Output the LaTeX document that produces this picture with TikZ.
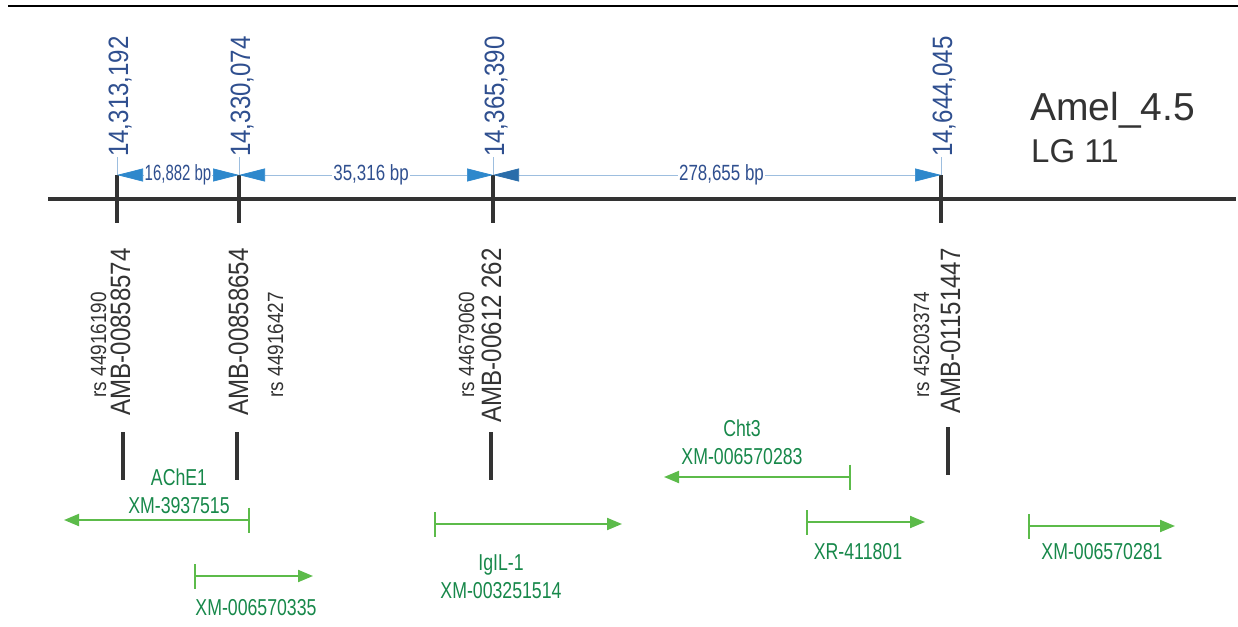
\documentclass[tikz,border=0pt]{standalone}
\usepackage{fontspec}
\setmainfont{Liberation Sans}
\newfontfamily\semicond[FakeStretch=0.86]{Liberation Sans}
\newfontfamily\condfont[FakeStretch=0.77]{Liberation Sans}
\newfontfamily\tightfont[FakeStretch=0.68]{Liberation Sans}
\usetikzlibrary{arrows.meta}
\definecolor{chrom}{HTML}{333333}
\definecolor{posblue}{HTML}{2F4F8F}
\definecolor{tipblue}{HTML}{2E88CC}
\definecolor{tipdark}{HTML}{2A6DAA}
\definecolor{rulerblue}{HTML}{9DBEDF}
\definecolor{genegreen}{HTML}{5CBB4A}
\definecolor{genetext}{HTML}{17884A}
\tikzset{
  chromline/.style={chrom, line width=4pt},
  mtick/.style={chrom, line width=3.5pt},
  ruler/.style={rulerblue, line width=0.7pt},
  distarrow/.style={ruler, {Triangle[length=26pt, width=13pt, color=tipblue]}-{Triangle[length=26pt, width=13pt, color=tipblue]}},
  poslab/.style={text=posblue, font=\semicond\fontsize{28}{30}\selectfont, rotate=90, anchor=base west, inner sep=0pt},
  amblab/.style={text=chrom, font=\semicond\fontsize{28}{30}\selectfont, rotate=90, anchor=base east, inner sep=0pt},
  rslab/.style={text=chrom, font=\semicond\fontsize{22}{24}\selectfont, rotate=90, anchor=base east, inner sep=0pt},
  distlab/.style={text=posblue, font=\condfont\fontsize{22}{24}\selectfont, fill=white, inner sep=1pt},
  gene/.style={genegreen, line width=2pt, {Bar[width=25pt]}-{Triangle[length=15pt, width=12pt]}},
  genelab/.style={text=genetext, font=\condfont\fontsize{23}{28}\selectfont, align=center, inner sep=0pt},
}

\begin{document}
\begin{tikzpicture}[x=1pt, y=-1pt]
  \useasboundingbox (0,0) rectangle (1238,626);
  \draw[black, line width=2pt] (8,6) -- (1238,6);

  % chromosome with the four SNP markers
  \draw[chromline] (48,199) -- (1236,199);
  \foreach \i/\x/\val in {1/117/{14,313,192}, 2/239/{14,330,074}, 3/493/{14,365,390}, 4/941/{14,644,045}}{
    \coordinate (m\i) at (\x,175);
    \coordinate (m\i b) at (\x,223);
    \draw[mtick] (m\i) -- (m\i b);
    \node[poslab] (p\i) at (\x+11,157) {\val};
    \draw[ruler] (m\i) -- (p\i.base west -| m\i);
  }

  % distances between markers
  \draw[distarrow] (m1) -- node[distlab, font=\tightfont\fontsize{22}{24}\selectfont] (d1) {16,882 bp} (m2);
  \draw[distarrow] (m2) -- node[distlab, pos=0.52] (d2) {35,316 bp} (m3);
  \draw[ruler, {Triangle[length=26pt, width=13pt, color=tipdark]}-{Triangle[length=26pt, width=13pt, color=tipblue]}]
    (m3) -- node[distlab, pos=0.51] (d3) {278,655 bp} (m4);

  % marker names below the line
  \foreach \i/\ax/\amb/\rx/\rs/\bx/\by in {1/130/AMB-00858574/106/rs 44916190/123/432,
      2/248/AMB-00858654/283/rs 44916427/237/432,
      3/501/AMB-00612 262/474/rs 44679060/491/432,
      4/960/AMB-01151447/929/rs 45203374/948/427}{
    \node[amblab] (a\i) at (\ax,248) {\amb};
    \node[rslab] (r\i) at (\rx,292) {\rs};
    \coordinate (s\i) at (\bx,\by);
    \draw[mtick] (s\i) -- ++(0,48);
  }

  \node[anchor=base west, inner sep=0pt, text=chrom, font=\fontsize{39}{40}\selectfont] (title) at (1030,120) {Amel\_4.5};
  \node[anchor=base west, inner sep=0pt, text=chrom, font=\fontsize{33}{34}\selectfont] (lg) at (1031,162) {LG 11};

  % genes
  \foreach \i/\sx/\ex/\y/\lx/\ly/\lab in {1/250/64/520/179/491/{AChE1\\XM-3937515},
      2/194/313/576/256/608/{XM-006570335},
      3/434/622/524/501/577/{IgIL-1\\XM-003251514},
      4/851/664/477/742/442/{Cht3\\XM-006570283},
      5/806/925/522/858/552/{XR-411801},
      6/1028/1175/526/1102/552/{XM-006570281}}{
    \coordinate (g\i s) at (\sx,\y);
    \coordinate (g\i e) at (\ex,\y);
    \draw[gene] (g\i s) -- (g\i e);
    \node[genelab] (gl\i) at (\lx,\ly) {\lab};
  }
\end{tikzpicture}
\end{document}
